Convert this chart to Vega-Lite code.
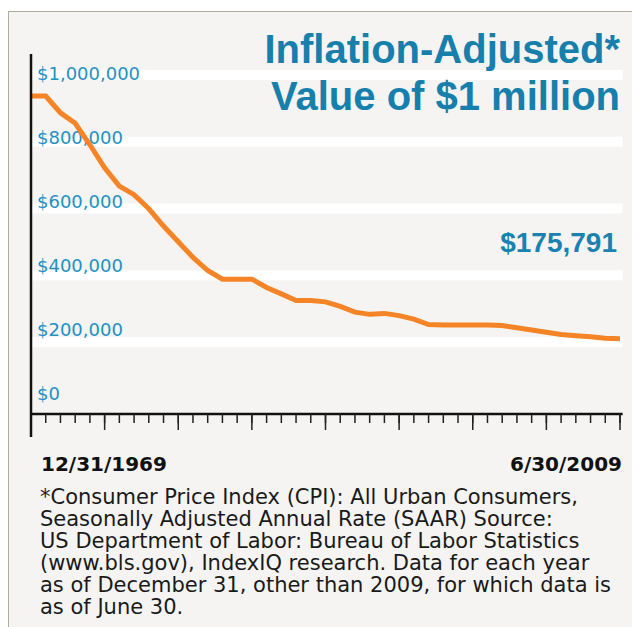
{
  "$schema": "https://vega.github.io/schema/vega-lite/v6.json",
  "width": 624,
  "height": 616,
  "autosize": {"type": "none"},
  "padding": {"left": 8, "top": 11, "right": 0, "bottom": 0},
  "background": "white",
  "config": {"view": {"fill": "#f5f4f2", "stroke": null}},
  "datasets": {
    "series": [
      {"year": 1969, "value": 934000},
      {"year": 1970, "value": 934000},
      {"year": 1971, "value": 882000},
      {"year": 1972, "value": 849000},
      {"year": 1973, "value": 782000},
      {"year": 1974, "value": 710000},
      {"year": 1975, "value": 653000},
      {"year": 1976, "value": 626000},
      {"year": 1977, "value": 582000},
      {"year": 1978, "value": 528000},
      {"year": 1979, "value": 479000},
      {"year": 1980, "value": 430000},
      {"year": 1981, "value": 389000},
      {"year": 1982, "value": 362000},
      {"year": 1983, "value": 362000},
      {"year": 1984, "value": 362000},
      {"year": 1985, "value": 336000},
      {"year": 1986, "value": 316000},
      {"year": 1987, "value": 295000},
      {"year": 1988, "value": 295000},
      {"year": 1989, "value": 291000},
      {"year": 1990, "value": 277000},
      {"year": 1991, "value": 259000},
      {"year": 1992, "value": 252000},
      {"year": 1993, "value": 255000},
      {"year": 1994, "value": 248000},
      {"year": 1995, "value": 237000},
      {"year": 1996, "value": 220000},
      {"year": 1997, "value": 219000},
      {"year": 1998, "value": 219000},
      {"year": 1999, "value": 219000},
      {"year": 2000, "value": 219000},
      {"year": 2001, "value": 217000},
      {"year": 2002, "value": 210000},
      {"year": 2003, "value": 203000},
      {"year": 2004, "value": 196000},
      {"year": 2005, "value": 189000},
      {"year": 2006, "value": 185000},
      {"year": 2007, "value": 182000},
      {"year": 2008, "value": 177000},
      {"year": 2009, "value": 175791}
    ],
    "ticks": [
      {"v": 0}, {"v": 200000}, {"v": 400000}, {"v": 600000}, {"v": 800000}, {"v": 1000000}
    ],
    "grid": [
      {"v": 200000}, {"v": 400000}, {"v": 600000}, {"v": 800000}, {"v": 1000000}
    ],
    "one": [{}]
  },
  "resolve": {"scale": {"y": "independent"}},
  "layer": [
    {
      "data": {"name": "grid"},
      "mark": {"type": "rule", "color": "white", "strokeWidth": 10},
      "encoding": {
        "x": {"datum": 1969, "type": "quantitative", "scale": {"domain": [1967.438, 2009.815], "nice": false, "zero": false}, "axis": null},
        "x2": {"datum": 2009.18},
        "y": {"field": "v", "type": "quantitative", "scale": {"domain": [-653933, 1191760], "nice": false, "zero": false}, "axis": null}
      }
    },
    {
      "layer": [
        {
          "data": {"name": "one"},
          "mark": {"type": "rule", "color": "#aeab9f", "strokeWidth": 1},
          "encoding": {
            "x": {"datum": 1967.472, "type": "quantitative", "scale": {"domain": [1967.438, 2009.815], "nice": false, "zero": false}, "axis": null}
          }
        },
        {
          "data": {"name": "one"},
          "mark": {"type": "rule", "color": "#aeab9f", "strokeWidth": 1},
          "encoding": {
            "y": {"datum": 1198437, "type": "quantitative", "scale": {"domain": [-725000, 1200000], "nice": false, "zero": false}, "axis": null}
          }
        },
        {
          "data": {"name": "ticks"},
          "mark": {"type": "text", "align": "left", "baseline": "middle", "dx": 6, "font": "DejaVu Sans", "fontSize": 18, "color": "#2391c2"},
          "encoding": {
            "x": {"datum": 1969, "type": "quantitative", "scale": {"domain": [1967.438, 2009.815], "nice": false, "zero": false}, "axis": null},
            "y": {"field": "v", "type": "quantitative", "scale": {"domain": [-725000, 1200000], "nice": false, "zero": false}, "axis": null},
            "text": {"field": "v", "type": "quantitative", "format": "$,.0f"}
          }
        },
        {
          "data": {"name": "series"},
          "mark": {"type": "line", "color": "#f58426", "strokeWidth": 5, "strokeJoin": "miter"},
          "encoding": {
            "x": {"field": "year", "type": "quantitative", "scale": {"domain": [1967.438, 2009.815], "nice": false, "zero": false}, "axis": null},
            "y": {"field": "value", "type": "quantitative", "scale": {"domain": [-725000, 1200000], "nice": false, "zero": false}, "axis": null}
          }
        },
        {
          "data": {"name": "one"},
          "mark": {"type": "rule", "color": "#111111", "strokeWidth": 2.5},
          "encoding": {
            "x": {"datum": 1969, "type": "quantitative", "scale": {"domain": [1967.438, 2009.815], "nice": false, "zero": false}, "axis": null},
            "y": {"datum": 1065625, "type": "quantitative", "scale": {"domain": [-725000, 1200000], "nice": false, "zero": false}, "axis": null},
            "y2": {"datum": -131250}
          }
        },
        {
          "data": {"name": "one"},
          "mark": {"type": "rule", "color": "#111111", "strokeWidth": 2.5},
          "encoding": {
            "x": {"datum": 1969, "type": "quantitative", "scale": {"domain": [1967.438, 2009.815], "nice": false, "zero": false}, "axis": null},
            "x2": {"datum": 2009.18},
            "y": {"datum": -59375, "type": "quantitative", "scale": {"domain": [-725000, 1200000], "nice": false, "zero": false}, "axis": null}
          }
        },
        {
          "data": {"name": "series"},
          "transform": [{"filter": "datum.year > 1969"}],
          "mark": {"type": "rule", "color": "#222222", "strokeWidth": 1.5},
          "encoding": {
            "x": {"field": "year", "type": "quantitative", "scale": {"domain": [1967.438, 2009.815], "nice": false, "zero": false}, "axis": null},
            "y": {"datum": -59375, "type": "quantitative", "scale": {"domain": [-725000, 1200000], "nice": false, "zero": false}, "axis": null},
            "y2": {"datum": -87500}
          }
        },
        {
          "data": {"name": "series"},
          "transform": [{"filter": "datum.year > 1969 && (datum.year - 1969) % 5 == 0"}],
          "mark": {"type": "rule", "color": "#222222", "strokeWidth": 1.5},
          "encoding": {
            "x": {"field": "year", "type": "quantitative", "scale": {"domain": [1967.438, 2009.815], "nice": false, "zero": false}, "axis": null},
            "y": {"datum": -59375, "type": "quantitative", "scale": {"domain": [-725000, 1200000], "nice": false, "zero": false}, "axis": null},
            "y2": {"datum": -109375}
          }
        },
        {
          "data": {"name": "one"},
          "mark": {"type": "text", "text": ["Inflation-Adjusted*", "Value of $1 million"], "align": "right", "baseline": "alphabetic", "lineHeight": 47, "font": "Liberation Sans", "fontWeight": "bold", "fontSize": 40, "color": "#167fac"},
          "encoding": {
            "x": {"datum": 2009, "type": "quantitative", "scale": {"domain": [1967.438, 2009.815], "nice": false, "zero": false}, "axis": null},
            "y": {"datum": 1037500, "type": "quantitative", "scale": {"domain": [-725000, 1200000], "nice": false, "zero": false}, "axis": null}
          }
        },
        {
          "data": {"name": "series"},
          "transform": [{"filter": "datum.year == 2009"}],
          "mark": {"type": "text", "align": "right", "baseline": "alphabetic", "dx": -3, "font": "Liberation Sans", "fontWeight": "bold", "fontSize": 28, "color": "#1a82b0"},
          "encoding": {
            "x": {"field": "year", "type": "quantitative", "scale": {"domain": [1967.438, 2009.815], "nice": false, "zero": false}, "axis": null},
            "y": {"datum": 446875, "type": "quantitative", "scale": {"domain": [-725000, 1200000], "nice": false, "zero": false}, "axis": null},
            "text": {"field": "value", "type": "quantitative", "format": "$,.0f"}
          }
        },
        {
          "data": {"name": "one"},
          "mark": {"type": "text", "text": "12/31/1969", "align": "left", "baseline": "alphabetic", "dx": 10, "font": "DejaVu Sans", "fontWeight": "bold", "fontSize": 20, "color": "#111111"},
          "encoding": {
            "x": {"datum": 1969, "type": "quantitative", "scale": {"domain": [1967.438, 2009.815], "nice": false, "zero": false}, "axis": null},
            "y": {"datum": -237500, "type": "quantitative", "scale": {"domain": [-725000, 1200000], "nice": false, "zero": false}, "axis": null}
          }
        },
        {
          "data": {"name": "one"},
          "mark": {"type": "text", "text": "6/30/2009", "align": "right", "baseline": "alphabetic", "dx": 2, "font": "DejaVu Sans", "fontWeight": "bold", "fontSize": 20, "color": "#111111"},
          "encoding": {
            "x": {"datum": 2009, "type": "quantitative", "scale": {"domain": [1967.438, 2009.815], "nice": false, "zero": false}, "axis": null},
            "y": {"datum": -237500, "type": "quantitative", "scale": {"domain": [-725000, 1200000], "nice": false, "zero": false}, "axis": null}
          }
        },
        {
          "data": {"name": "one"},
          "mark": {"type": "text", "text": ["*Consumer Price Index (CPI): All Urban Consumers,", "Seasonally Adjusted Annual Rate (SAAR) Source:", "US Department of Labor: Bureau of Labor Statistics", "(www.bls.gov), IndexIQ research. Data for each year", "as of December 31, other than 2009, for which data is", "as of June 30."], "align": "left", "baseline": "alphabetic", "dx": 9, "lineHeight": 22, "font": "DejaVu Sans", "fontSize": 21, "color": "#1a1a1a"},
          "encoding": {
            "x": {"datum": 1969, "type": "quantitative", "scale": {"domain": [1967.438, 2009.815], "nice": false, "zero": false}, "axis": null},
            "y": {"datum": -340625, "type": "quantitative", "scale": {"domain": [-725000, 1200000], "nice": false, "zero": false}, "axis": null}
          }
        }
      ]
    }
  ]
}
